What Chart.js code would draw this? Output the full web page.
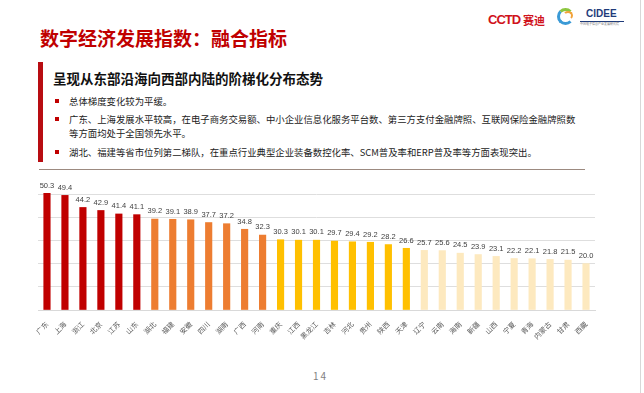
<!DOCTYPE html>
<html>
<head>
<meta charset="utf-8">
<script src="https://cdn.jsdelivr.net/npm/chart.js@4.4.1/dist/chart.umd.min.js"></script>
<style>
  html, body { margin: 0; padding: 0; background: #fff; }
  body { width: 644px; height: 393px; position: relative; overflow: hidden;
         font-family: "Noto Sans CJK SC", "Noto Sans", sans-serif; }
  .abs { position: absolute; white-space: nowrap; }
  .title { left: 40px; top: 25px; font-size: 19px; font-weight: bold; color: #c00000; line-height: 26px; }
  .redbar { left: 38px; top: 62px; width: 5px; height: 100px; background: #b80d12; }
  .subtitle { left: 53px; top: 69px; font-size: 13.5px; font-weight: bold; color: #111; line-height: 18px; }
  .bullet { left: 55px; width: 4px; height: 4px; background: #c00000; }
  .txt { left: 69px; font-size: 9.4px; color: #222; line-height: 12px; }
  .sep { left: 39px; top: 169px; width: 546px; height: 1px; background: #9c8a80; }
  .page { left: 313px; top: 368px; font-size: 10px; color: #7f7f7f; letter-spacing: 2px; }
  .edge { left: 640px; top: 0; width: 1px; height: 393px; background: #d8d8d8; }
  #chartBox { position: absolute; left: 0; top: 170px; width: 644px; height: 180px; }
</style>
</head>
<body>
<div class="abs edge"></div>
<div class="abs" style="left:488px;top:12px;font-size:13px;font-weight:bold;color:#d0121b;letter-spacing:-1px;font-family:'Liberation Sans',sans-serif;">CCTD</div>
<div class="abs" style="left:523px;top:12px;font-size:11px;color:#d0121b;font-weight:bold;">赛迪</div>
<div class="abs" style="left:557px;top:8px;width:17px;height:17px;border-radius:50%;border:3px solid #3a9ad6;border-right-color:transparent;border-top-color:#8cc63f;box-sizing:border-box;"></div>
<div class="abs" style="left:563px;top:11px;width:10px;height:9px;border-radius:50%;border:2px solid #f2a33a;border-left-color:transparent;border-bottom-color:transparent;box-sizing:border-box;"></div>
<div class="abs" style="left:586px;top:8px;font-size:10px;font-weight:bold;color:#1f3b7a;font-family:'Liberation Sans',sans-serif;">CIDEE</div>
<div class="abs" style="left:580px;top:21px;width:44px;height:1px;background:#1f3b7a;"></div>
<div class="abs" style="left:580px;top:22px;font-size:3px;color:#777;">中国电子信息产业发展研究院</div>

<div class="abs title">数字经济发展指数：融合指标</div>
<div class="abs redbar"></div>
<div class="abs subtitle">呈现从东部沿海向西部内陆的阶梯化分布态势</div>

<div class="abs bullet" style="top:99px;"></div>
<div class="abs txt" style="top:95px;">总体梯度变化较为平缓。</div>
<div class="abs bullet" style="top:117px;"></div>
<div class="abs txt" style="top:113px;">广东、上海发展水平较高，在电子商务交易额、中小企业信息化服务平台数、第三方支付金融牌照、互联网保险金融牌照数</div>
<div class="abs txt" style="top:127px;">等方面均处于全国领先水平。</div>
<div class="abs bullet" style="top:150px;"></div>
<div class="abs txt" style="top:146px;">湖北、福建等省市位列第二梯队，在重点行业典型企业装备数控化率、SCM普及率和ERP普及率等方面表现突出。</div>
<div class="abs sep"></div>

<div id="chartBox"><canvas id="indexChart"></canvas></div>
<div class="abs page">14</div>

<script>
const provinces = ['广东', '上海', '浙江', '北京', '江苏', '山东', '湖北', '福建', '安徽', '四川', '湖南',
    '广西', '河南', '重庆', '江西', '黑龙江', '吉林', '河北', '贵州', '陕西', '天津',
    '辽宁', '云南', '海南', '新疆', '山西', '宁夏', '青海', '内蒙古', '甘肃', '西藏'];
const scores = [50.3, 49.4, 44.2, 42.9, 41.4, 41.1, 39.2, 39.1, 38.9, 37.7, 37.2,
    34.8, 32.3, 30.3, 30.1, 30.1, 29.7, 29.4, 29.2, 28.2, 26.6,
    25.7, 25.6, 24.5, 23.9, 23.1, 22.2, 22.1, 21.8, 21.5, 20.0];
// tier of each province: 0 = first, 1 = second, 2 = third, 3 = fourth
const tiers = [0, 0, 0, 0, 0, 0, 1, 1, 1, 1, 1,
    1, 1, 2, 2, 2, 2, 2, 2, 2, 2,
    3, 3, 3, 3, 3, 3, 3, 3, 3, 3];
const tierColors = ['#c00000', '#ed7d31', '#ffc000', '#fde9bf'];
const yTicks = [0, 10, 20, 30, 40, 50];

// draws the value above every bar
const valueLabels = {
    id: 'valueLabels',
    afterDatasetsDraw(chart) {
        const ctx = chart.ctx;
        const meta = chart.getDatasetMeta(0);
        ctx.save();
        ctx.font = '7.5px "Liberation Sans", sans-serif';
        ctx.fillStyle = '#404040';
        ctx.textAlign = 'center';
        ctx.textBaseline = 'bottom';
        meta.data.forEach((bar, i) => {
            ctx.fillText(scores[i].toFixed(1), bar.x, bar.y - 4);
        });
        ctx.restore();
    }
};

document.addEventListener('DOMContentLoaded', function() {
    const ctx = document.getElementById('indexChart').getContext('2d');
    new Chart(ctx, {
        type: 'bar',
        data: {
            labels: provinces,
            datasets: [{
                data: scores,
                backgroundColor: tiers.map(t => tierColors[t]),
                barThickness: 6.5,
                clip: false
            }]
        },
        options: {
            responsive: true,
            maintainAspectRatio: false,
            animation: false,
            layout: { padding: { left: 38, right: 49, top: 24, bottom: 0 } },
            plugins: { legend: { display: false }, tooltip: { enabled: false } },
            scales: {
                x: {
                    grid: { display: false },
                    border: { display: true, color: '#d9d9d9' },
                    ticks: {
                        autoSkip: false,
                        minRotation: 45,
                        maxRotation: 45,
                        padding: 2,
                        color: '#595959',
                        font: { size: 7, family: '"Noto Sans CJK SC", sans-serif' }
                    },
                    afterFit(scale) { scale.height = 40; }
                },
                y: {
                    min: 0,
                    max: 50,
                    afterBuildTicks(scale) { scale.ticks = yTicks.map(v => ({ value: v })); },
                    grid: { color: '#dedede', drawTicks: false },
                    border: { display: false },
                    ticks: { display: false },
                    afterFit(scale) { scale.width = 0; }
                }
            }
        },
        plugins: [valueLabels]
    });
});
</script>
</body>
</html>
